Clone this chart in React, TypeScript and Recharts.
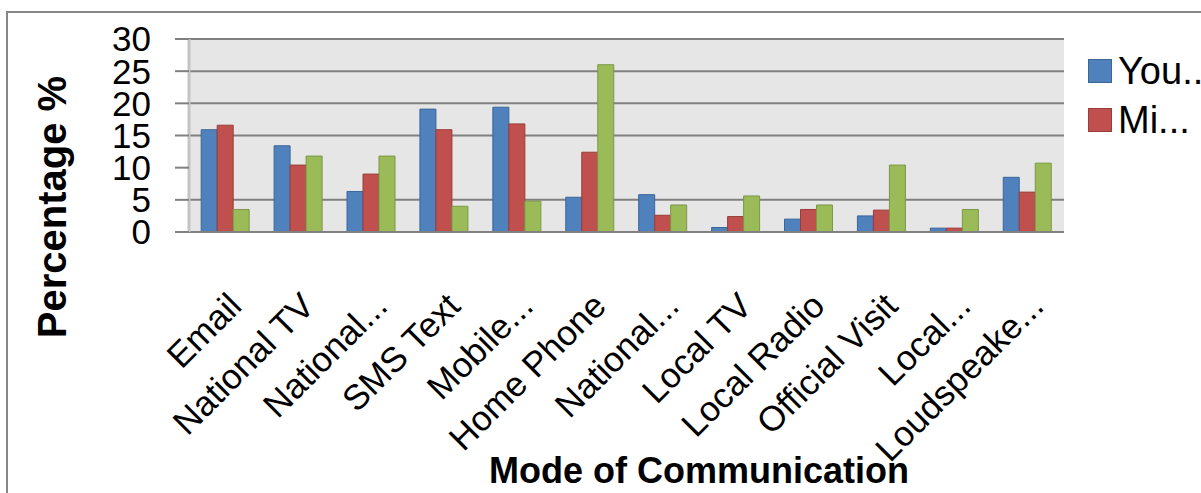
import { BarChart, Bar, XAxis, YAxis, CartesianGrid, Label } from 'recharts';

const categories = [
  'Email', 'National TV', 'National...', 'SMS Text', 'Mobile...', 'Home Phone',
  'National...', 'Local TV', 'Local Radio', 'Official Visit', 'Local...', 'Loudspeake...',
];
const youth = [15.9, 13.4, 6.3, 19.1, 19.4, 5.4, 5.8, 0.7, 2.0, 2.5, 0.6, 8.5];
const middle = [16.6, 10.4, 9.0, 15.9, 16.8, 12.4, 2.6, 2.4, 3.5, 3.4, 0.6, 6.2];
const elderly = [3.5, 11.8, 11.8, 4.0, 4.8, 26.0, 4.2, 5.6, 4.2, 10.4, 3.5, 10.7];
const yTicks = [0, 5, 10, 15, 20, 25, 30];
const legendLabels = ['You...', 'Mi...'];

const COLORS = {
  blue: '#4F81BD', blueEdge: '#3C6698',
  red: '#C0504D', redEdge: '#9A3C3A',
  green: '#9BBB59', greenEdge: '#7A9845',
  grid: '#808080',
};

const data = categories.map((name, i) => ({
  name, youth: youth[i], middle: middle[i], elderly: elderly[i],
}));

const FONT = '"Liberation Sans", Arial, sans-serif';

// rotated category labels, end of text sits just right of the category centre
function XTick({ x, y, payload }: { x: number; y: number; payload: { value: string } }) {
  return (
    <g transform={`translate(${x + 18},${y + 76}) rotate(-45)`}>
      <text textAnchor="end" fontSize={35} fill="#000" fontFamily={FONT}>{payload.value}</text>
    </g>
  );
}

function LegendBox() {
  const fills = [COLORS.blue, COLORS.red];
  const edges = [COLORS.blueEdge, COLORS.redEdge];
  return (
    <div style={{ position: 'absolute', left: 1088, top: 46, fontFamily: FONT, whiteSpace: 'nowrap' }}>
      {legendLabels.map((l, i) => (
        <div key={i} style={{ display: 'flex', alignItems: 'center', height: 49 }}>
          <div style={{ width: 22, height: 22, background: fills[i], border: `1px solid ${edges[i]}`, marginRight: 6 }} />
          <span style={{ fontSize: 38, lineHeight: '38px' }}>{l}</span>
        </div>
      ))}
    </div>
  );
}

export default function App() {
  return (
    <div style={{ position: 'absolute', left: 0, top: 0, width: 1201, height: 493, overflow: 'hidden', background: '#fff' }}>
      <div style={{ position: 'absolute', left: 6, top: 11, width: 1400, height: 700, border: '2px solid #878787' }} />
      <BarChart
        width={1201}
        height={493}
        data={data}
        margin={{ top: 39, right: 137, left: 0, bottom: 0 }}
        barCategoryGap="16.7%"
        barGap={0}
        style={{ position: 'absolute', left: 0, top: 0 }}
      >
        <CartesianGrid vertical={false} horizontalValues={[0, 5, 15, 20, 25, 30]} stroke={COLORS.grid} strokeWidth={2} fill="#E6E6E6" />
        <XAxis
          dataKey="name"
          height={261}
          interval={0}
          tickLine={false}
          tickSize={0}
          tickMargin={0}
          axisLine={{ stroke: COLORS.grid, strokeWidth: 2 }}
          tick={XTick as any}
        >
          <Label content={() => (
            <text x={699} y={483} textAnchor="middle" fontSize={36} fontWeight="bold" fontFamily={FONT} fill="#000">
              Mode of Communication
            </text>
          )} />
        </XAxis>
        <YAxis
          width={189}
          domain={[0, 30]}
          ticks={yTicks}
          interval={0}
          tickSize={14}
          tickMargin={24}
          tickLine={{ stroke: COLORS.grid, strokeWidth: 2 }}
          axisLine={{ stroke: '#C4C4C4', strokeWidth: 3 }}
          tick={{ fontSize: 35, fill: '#000', fontFamily: FONT }}
        >
          <Label content={() => (
            <text x={66} y={207} transform="rotate(-90 66 207)" textAnchor="middle" fontSize={40} fontWeight="bold" fontFamily={FONT} fill="#000">
              Percentage %
            </text>
          )} />
        </YAxis>
        <Bar dataKey="youth" fill={COLORS.blue} stroke={COLORS.blueEdge} strokeWidth={1} isAnimationActive={false} />
        <Bar dataKey="middle" fill={COLORS.red} stroke={COLORS.redEdge} strokeWidth={1} isAnimationActive={false} />
        <Bar dataKey="elderly" fill={COLORS.green} stroke={COLORS.greenEdge} strokeWidth={1} isAnimationActive={false} />
      </BarChart>
      <LegendBox />
    </div>
  );
}
